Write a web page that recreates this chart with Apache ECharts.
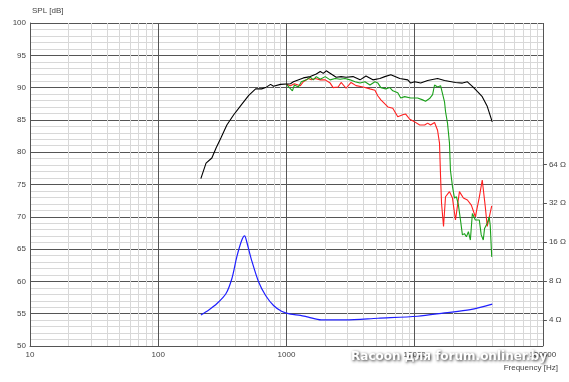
<!DOCTYPE html>
<html><head><meta charset="utf-8">
<script src="https://cdn.jsdelivr.net/npm/echarts@6/dist/echarts.min.js"></script>
<style>html,body{margin:0;padding:0;background:#fff}#c{width:569px;height:382px}</style>
</head><body><div id="c"></div>
<script>
// Black curve (SPL, dB)
const blackFreq = [215,236,262,282,308,343,388,440,508,575,640,688,752,793,898,1075,1133,1355,1535,1709,1835,1938,2043,2234,2443,2669,2918,3304,3750,4170,4721,5354,5850,6516,7652,8830,9310,10000,11140,12620,15080,17090,20810,23570,25770,28180,30780,33650,36800,40270];
const blackDb   = [75.9,78.3,79.1,80.6,82.2,84.2,85.8,87.2,88.8,89.8,89.8,90.0,90.5,90.2,90.5,90.6,90.9,91.5,91.7,92.1,92.5,92.2,92.6,92.1,91.6,91.7,91.6,91.7,91.2,91.8,91.2,91.4,91.7,92.0,91.4,91.2,90.7,90.9,90.7,91.1,91.4,91.1,90.8,90.7,90.9,90.2,89.4,88.6,87.1,84.7];
// Red curve
const redFreq = [1000,1075,1153,1284,1355,1482,1563,1678,1835,2006,2193,2312,2529,2669,2918,3190,3489,3954,4479,4898,5168,5450,6180,6750,7382,8070,8510,9150,10000,10940,11970,12620,13300,14290,15080,15620,15920,16200,16790,17400,18680,19710,20810,22340,23990,25770,27660,29720,31910,33650,35480,36800,38110,39890];
const redDb   = [90.5,90.3,90.6,90.3,90.9,91.4,91.2,91.4,91.2,91.2,90.7,90.0,90.1,90.8,89.9,90.8,90.3,90.1,89.8,89.6,88.7,88.1,87.0,86.8,85.5,85.8,85.9,85.1,84.7,84.2,84.2,84.5,84.2,84.6,83.4,81.4,76.2,72.1,68.5,73.1,73.9,72.9,69.5,73.9,72.9,72.6,71.8,70.0,73.0,75.7,71.7,68.5,68.2,71.7];
// Green curve
const greenFreq = [1000,1036,1113,1153,1239,1307,1429,1535,1619,1709,1835,2006,2193,2398,2624,2864,3132,3428,3750,4094,4479,4898,5168,5450,5956,6400,6750,7382,7785,8360,9310,10550,11530,12160,13060,13800,14290,15080,15920,17090,17400,18030,18680,19010,19710,20430,21180,21950,22760,23570,24440,25320,26240,27190,28180,29720,31910,33040,34270,35080,36800,38110,38830,39890];
const greenDb   = [90.5,90.8,89.5,90.4,90.1,90.9,91.2,91.6,91.2,91.7,91.3,91.7,91.2,91.4,91.3,91.4,91.2,90.9,90.7,90.9,90.4,90.9,90.7,90.0,89.8,90.0,89.5,89.2,88.4,88.6,88.4,88.4,88.1,87.9,88.3,88.9,90.4,90.1,90.3,87.8,86.3,84.5,81.4,77.2,74.7,72.9,73.1,71.8,69.5,67.2,67.4,66.9,67.7,66.4,70.5,69.5,69.5,67.2,66.4,68.2,69.0,70.0,68.7,63.8];
// Blue curve (impedance, ohm)
const impFreq = [215,248,286,337,375,410,448,472,490,535,607,688,793,915,1075,1284,1482,1867,2866,5168,10550,17090,27190,40270];
const impOhm  = [4.37,4.78,5.33,6.37,8.33,12.3,16.55,17.9,16.1,11.57,7.86,6.18,5.17,4.67,4.43,4.34,4.2,4.0,4.0,4.12,4.27,4.53,4.81,5.30];

const xTickLabels = [10,100,1000,10000,100000];
const impTickOhms = [4,8,16,32,64];
const IMP_REF_DB = 42; // dB position of 1 ohm on SPL scale

const toDb = z => 20*Math.log10(z) + IMP_REF_DB;
const pairs = (f, v) => f.map((x,i)=>[x, v[i]]);

const labelFont = {color:'#444', fontSize:8, fontFamily:'"Liberation Sans", Arial, sans-serif'};

const chart = echarts.init(document.getElementById('c'), null, {renderer:'canvas'});
chart.setOption({
  animation:false,
  grid:{left:30, right:24, top:23, bottom:36, containLabel:false},
  xAxis:{
    type:'log', logBase:10, min:10, max:100000,
    name:'Frequency [Hz]', nameLocation:'end', nameGap:15,
    nameTextStyle:Object.assign({}, labelFont, {align:'right', verticalAlign:'top', padding:[18,0,0,0]}),
    axisLine:{show:true, lineStyle:{color:'#555', width:1}},
    axisTick:{show:false},
    axisLabel:Object.assign({}, labelFont, {margin:5, formatter:v=>String(v), customValues:xTickLabels}),
    splitLine:{show:true, lineStyle:{color:'#555', width:1}},
    minorTick:{show:false, splitNumber:9},
    minorSplitLine:{show:true, lineStyle:{color:'#d8d8d8', width:1}}
  },
  yAxis:[{
    type:'value', min:50, max:100, interval:5, position:'left',
    name:'SPL [dB]', nameLocation:'end', nameGap:8,
    nameTextStyle:Object.assign({}, labelFont, {align:'left', padding:[0,0,0,2]}),
    axisLine:{show:true, lineStyle:{color:'#555'}},
    axisTick:{show:false},
    axisLabel:Object.assign({}, labelFont, {margin:4}),
    splitLine:{show:true, lineStyle:{color:'#555', width:1}},
    minorTick:{show:false, splitNumber:5},
    minorSplitLine:{show:true, lineStyle:{color:'#d8d8d8', width:1}}
  },{
    type:'value', min:50, max:100, position:'right',
    axisLine:{show:false},
    axisTick:{show:true, length:4, lineStyle:{color:'#555'}, customValues:impTickOhms.map(toDb)},
    axisLabel:Object.assign({}, labelFont, {margin:6, customValues:impTickOhms.map(toDb),
      formatter:v=>Math.round(Math.pow(10,(v-IMP_REF_DB)/20)) + ' Ω'}),
    splitLine:{show:false}
  }],
  series:[
    {type:'line', data:pairs(blackFreq, blackDb), showSymbol:false, lineStyle:{color:'#000', width:1.1}, z:4},
    {type:'line', data:pairs(greenFreq, greenDb), showSymbol:false, lineStyle:{color:'#1aa01a', width:1.1}, z:3},
    {type:'line', data:pairs(redFreq, redDb), showSymbol:false, lineStyle:{color:'#ff2020', width:1.1}, z:2},
    {type:'line', yAxisIndex:1, data:pairs(impFreq, impOhm.map(toDb)), showSymbol:false, smooth:0.3, lineStyle:{color:'#1f1fff', width:1.2}, z:2}
  ],
  graphic:[{
    type:'text', right:22, top:351, z:100,
    style:{text:'Racoon для forum.onliner.by', fill:'#fff', font:'bold 12px "DejaVu Sans", sans-serif',
      textShadowColor:'rgba(0,0,0,0.85)', textShadowBlur:3, textShadowOffsetX:1, textShadowOffsetY:1}
  }]
});
</script></body></html>
